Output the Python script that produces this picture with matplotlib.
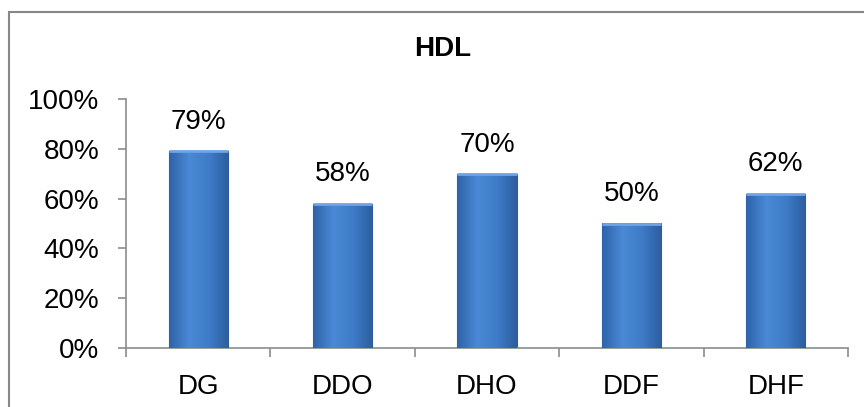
import numpy as np
import matplotlib.pyplot as plt
from matplotlib.patches import Rectangle
from matplotlib.colors import LinearSegmentedColormap

categorias = ["DG", "DDO", "DHO", "DDF", "DHF"]
valores = [79, 58, 70, 50, 62]
ticks_y = [0, 20, 40, 60, 80, 100]
titulo = "HDL"

plt.rcParams['font.family'] = ['Liberation Sans', 'DejaVu Sans']

fig = plt.figure(figsize=(8.64, 4.07), dpi=100)
ax = fig.add_axes([126/864, 1 - 348/407, (848 - 126)/864, (348 - 99)/407])

x = np.arange(len(categorias))
barras = ax.bar(x, valores, width=0.41, color='#3c78c3', edgecolor='#2d5c97',
                linewidth=0.8, zorder=2)

# gradiente horizontal dentro de cada barra
cmap = LinearSegmentedColormap.from_list("azul", ["#2f63a8", "#4a89d6", "#3f7cc8", "#2c5e9f"])
grad = np.linspace(0, 1, 100).reshape(1, -1)
for b in barras:
  x0, y0 = b.get_x(), b.get_y()
  w, h = b.get_width(), b.get_height()
  im = ax.imshow(grad, extent=[x0, x0 + w, y0, y0 + h], aspect='auto', cmap=cmap,
                 zorder=3, interpolation='bilinear')
  im.set_clip_path(b)
  ax.plot([x0, x0 + w], [y0 + h, y0 + h], color='#6fa4e6', lw=2, zorder=4,
          solid_capstyle='butt')

for xi, v in zip(x, valores):
  ax.text(xi, v + 6.5, f"{v}%", ha='center', va='bottom', fontsize=20)

ax.set_xlim(-0.5, len(categorias) - 0.5)
ax.set_ylim(0, 100)
ax.set_yticks(ticks_y)
ax.set_yticklabels([f"{t}%" for t in ticks_y], fontsize=20)
ax.set_xticks(x)
ax.set_xticklabels(categorias, fontsize=20)
ax.set_xticks(np.arange(-0.5, len(categorias)), minor=True)
ax.tick_params(axis='x', which='major', length=0, pad=19)
ax.tick_params(axis='x', which='minor', length=6.5, width=1.2, color='#8c8c8c', direction='out')
ax.tick_params(axis='y', length=6, width=1.2, color='#8c8c8c', direction='out', pad=13)

for lado in ['top', 'right']:
  ax.spines[lado].set_visible(False)
for lado in ['left', 'bottom']:
  ax.spines[lado].set_color('#8c8c8c')
  ax.spines[lado].set_linewidth(1.2)

fig.text(443/864, 1 - 49/407, titulo, ha='center', va='center', fontsize=20, fontweight='bold')

# borda do grafico
borda = Rectangle((9/864, -0.1), 1.0, 1 - 12/407 + 0.1, transform=fig.transFigure,
                  fill=False, edgecolor='#878787', linewidth=1.5)
fig.patches.append(borda)

plt.savefig("out.png", dpi=100)
